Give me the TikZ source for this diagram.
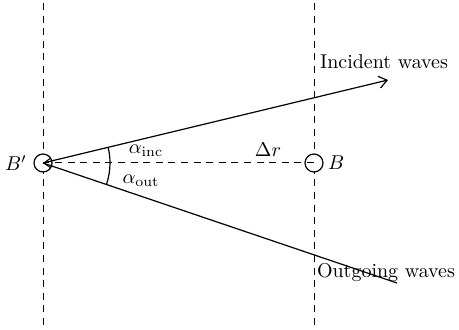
\documentclass[tikz,border=0pt]{standalone}
\usetikzlibrary{arrows.meta, positioning, calc}
\tikzset{
  every picture/.style={line width=0.6pt, x=0.5pt, y=0.5pt},
  guide/.style={line width=0.5pt, dash pattern=on 3.5pt off 2.8pt},
  source/.style={circle, draw, fill=white, minimum size=9pt, inner sep=0pt},
  wave/.style={-{Straight Barb[length=4pt, width=6pt]}},
  label/.style={font=\normalsize, inner sep=1pt},
}
\begin{document}
\begin{tikzpicture}
  \useasboundingbox (0,0) rectangle (459,330);
  % vertical guides
  \draw[guide] (43,327) -- (43,3);
  \draw[guide] (314,327) -- (314,3);
  % sources
  \node[source] (Bp) at (43,167) {};
  \node[source] (B) at (314,167) {};
  \node[label, left=2pt of Bp] (Bplabel) {$B'$};
  \node[label, right=1pt of B] (Blabel) {$B$};
  % distance
  \draw[guide, -{Straight Barb[length=3.5pt, width=5pt]}] (B.center) -- (Bp.center);
  \node[label] (dr) at (268,180) {$\Delta r$};
  % rays
  \coordinate (inc) at (388,250);
  \coordinate (out) at (397,47);
  \draw[wave] (Bp.center) -- (inc);
  \draw (Bp.center) -- (out);
  \node[label] (inclabel) at (384,268) {Incident waves};
  \node[label] (outlabel) at (386,57) {Outgoing waves};
  % angles
  \draw ($(Bp.center)+(13.5:67)$) arc (13.5:0:67);
  \draw ($(Bp.center)+(0:67)$) arc (0:-18.7:67);
  \node[label] (ainc) at (146,179) {$\alpha_{\mathrm{inc}}$};
  \node[label] (aout) at (141,149) {$\alpha_{\mathrm{out}}$};
\end{tikzpicture}
\end{document}
